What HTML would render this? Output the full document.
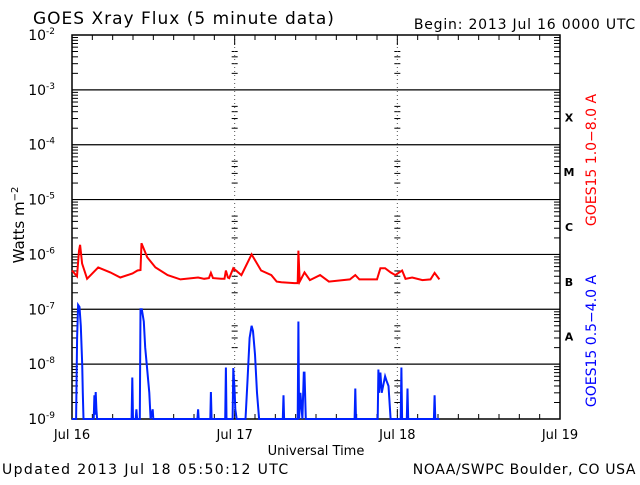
<!DOCTYPE html>
<html><head><meta charset="utf-8"><style>
body{margin:0;background:#fff;width:640px;height:480px;overflow:hidden}
svg text{font-family:"DejaVu Sans","Liberation Sans",sans-serif}
</style></head><body>
<svg id="c" width="640" height="480" xmlns="http://www.w3.org/2000/svg">
<text x="33" y="24" font-size="17" letter-spacing="1">GOES Xray Flux (5 minute data)</text>
<text x="636" y="29" font-size="14" letter-spacing="0.8" text-anchor="end">Begin:  2013 Jul 16 0000 UTC</text>
<text x="2" y="474" font-size="14" letter-spacing="1.4">Updated 2013 Jul 18 05:50:12 UTC</text>
<text x="636" y="474" font-size="14" letter-spacing="0.6" text-anchor="end">NOAA/SWPC Boulder, CO USA</text>
<text x="316" y="455" font-size="13" text-anchor="middle">Universal Time</text>
<text transform="translate(24,225) rotate(-90)" font-size="15" text-anchor="middle">Watts m<tspan dy="-6" font-size="10">−2</tspan></text>
<text transform="translate(596,160) rotate(-90)" font-size="14" fill="#ff0000" text-anchor="middle">GOES15 1.0−8.0 A</text>
<text transform="translate(596,341) rotate(-90)" font-size="14" fill="#0000ff" text-anchor="middle">GOES15 0.5−4.0 A</text>
<g id="ax"></g>
</svg>
<script>
const dayLabels=["Jul 16","Jul 17","Jul 18","Jul 19"];
const decades=[-2,-3,-4,-5,-6,-7,-8,-9];
const classes=["X","M","C","B","A"];
const redHours=[0,0.74,1.04,1.19,1.49,2.23,3.86,5.65,7.13,8.92,9.66,10.1,10.25,11.1,12.3,14.1,16.0,18.6,19.5,20.2,20.5,20.8,22.0,22.5,22.7,23.0,23.2,23.8,25.0,26.5,27.9,29.4,30.2,30.9,32.8,33.3,33.4,33.6,34.3,35.1,36.6,37.9,41.0,41.8,42.4,45.0,45.5,46.2,47.0,47.7,48.7,49.2,50.2,51.7,52.9,53.5,54.2];
const redFlux=[5.1e-7,4.0e-7,1.17e-6,1.5e-6,6.8e-7,3.6e-7,5.8e-7,4.7e-7,3.8e-7,4.5e-7,5.1e-7,5.2e-7,1.6e-6,8.9e-7,5.8e-7,4.2e-7,3.5e-7,3.8e-7,3.6e-7,3.7e-7,4.6e-7,3.7e-7,3.6e-7,3.6e-7,5.1e-7,3.8e-7,3.7e-7,5.6e-7,4.2e-7,1.0e-6,5.1e-7,4.2e-7,3.2e-7,3.1e-7,3.0e-7,3.0e-7,1.17e-6,3.2e-7,4.7e-7,3.4e-7,4.2e-7,3.2e-7,3.5e-7,4.2e-7,3.5e-7,3.5e-7,5.6e-7,5.6e-7,4.7e-7,4.2e-7,5.1e-7,3.6e-7,3.8e-7,3.4e-7,3.5e-7,4.6e-7,3.5e-7];
const blueHours=[0,0.6,0.75,0.9,1.1,1.3,1.5,1.6,1.7,3.2,3.3,3.4,3.5,3.6,3.7,8.8,8.9,9.0,9.4,9.5,9.6,10.0,10.1,10.3,10.6,10.8,11.1,11.4,11.6,11.9,12.0,18.5,18.6,18.7,20.4,20.5,20.6,22.6,22.7,22.8,23.2,23.7,23.8,24.0,24.1,24.3,25.6,25.9,26.2,26.5,26.7,27.0,27.3,27.6,31.1,31.2,31.3,33.3,33.4,33.5,33.7,34.0,34.2,34.3,34.5,41.7,41.8,41.9,45.1,45.2,45.3,45.5,45.7,46.2,46.4,46.7,47.0,48.5,48.6,48.7,49.4,49.5,49.6,53.4,53.5,53.6,54.2];
const blueFlux=[1e-9,1e-9,3e-8,1.2e-7,1.1e-7,5e-8,1e-8,3e-9,1e-9,1e-9,2.7e-9,1.2e-9,3.1e-9,1.5e-9,1e-9,1e-9,5.7e-9,1e-9,1e-9,1.5e-9,1e-9,1e-9,1e-7,1e-7,6e-8,2e-8,8e-9,3e-9,1e-9,1.5e-9,1e-9,1e-9,1.5e-9,1e-9,1e-9,3.1e-9,1e-9,1e-9,8.7e-9,1e-9,1e-9,1e-9,8.5e-9,3e-9,1.5e-9,1e-9,1e-9,5e-9,3e-8,5e-8,4e-8,1.5e-8,3e-9,1e-9,1e-9,2.7e-9,1e-9,1e-9,6e-8,1e-9,3e-9,1e-9,7e-9,7e-9,1e-9,1e-9,3.6e-9,1e-9,1e-9,8e-9,3e-9,7e-9,3e-9,6e-9,5e-9,4e-9,1e-9,1e-9,8.7e-9,1e-9,1e-9,3.6e-9,1e-9,1e-9,2.7e-9,1e-9,1e-9];

const L=72,R=560,T=35,B=419;
const NS="http://www.w3.org/2000/svg";
const g=document.getElementById('ax');
const xS=h=>L+h/72*(R-L);
const yS=f=>{let lg=Math.log10(f);lg=Math.max(-9,Math.min(-2,lg));return T+(-2-lg)/7*(B-T);};
const yL=lg=>T+(-2-lg)/7*(B-T);
function mk(tag,attrs){const e=document.createElementNS(NS,tag);for(const k in attrs)e.setAttribute(k,attrs[k]);g.appendChild(e);return e;}
let fr=mk('rect',{x:L,y:T,width:R-L,height:B-T,fill:'none',stroke:'#000','stroke-width':1.5});


decades.forEach(d=>{
  const y=yL(d);
  if(d>-9&&d<-2){const l=mk('line',{x1:L,x2:R,y1:y,y2:y,stroke:'#000','stroke-width':1.2});
    
    }
  const t=mk('text',{x:55,y:y+5,'font-size':14,'text-anchor':'end'});
  
  
  t.innerHTML='10<tspan dy="-6" font-size="9">'+d+'</tspan>';
  if(d>-9){for(let m=2;m<=9;m++){const yy=yL(d-1+Math.log10(m));
    const spans=[[L,L+6],[R-6,R]];
    if(m<=5){spans.push([xS(24)-3,xS(24)+3],[xS(48)-3,xS(48)+3]);}
    spans.forEach(p=>{
      const tk=mk('line',{x1:p[0],x2:p[1],y1:yy,y2:yy,stroke:'#000'});
      
      });}}
});
[24,48].forEach(h=>{const l=mk('line',{x1:xS(h),x2:xS(h),y1:T,y2:B,stroke:'#555','stroke-dasharray':'1,3'});
  
  });
for(let h=0;h<=72;h+=3){const x=xS(h),len=h%24==0?10:5;
  const a=mk('line',{x1:x,x2:x,y1:B,y2:B-len,stroke:'#000'});
  
  
  const b=mk('line',{x1:x,x2:x,y1:T,y2:T+len,stroke:'#000'});
  
  }
dayLabels.forEach((s,i)=>{const t=mk('text',{x:xS(i*24),y:439,'font-size':13,'text-anchor':'middle'});
  
  
  t.textContent=s;});
classes.forEach((c,i)=>{const t=mk('text',{x:569,y:(yL(-3-i)+yL(-4-i))/2+4,'font-size':11,'font-weight':'bold','font-family':'Liberation Serif, serif','text-anchor':'middle'});
  
  
  t.textContent=c;});
function series(hs,fs,col,name){
  const pts=hs.map((h,i)=>xS(h).toFixed(1)+','+yS(fs[i]).toFixed(1)).join(' ');
  const p=mk('polyline',{points:pts,fill:'none',stroke:col,'stroke-width':2,'stroke-linejoin':'miter'});
  
  
}
series(redHours,redFlux,'#ff0000','long-channel-line');
series(blueHours,blueFlux,'#0022ff','short-channel-line');
</script>
</body></html>
